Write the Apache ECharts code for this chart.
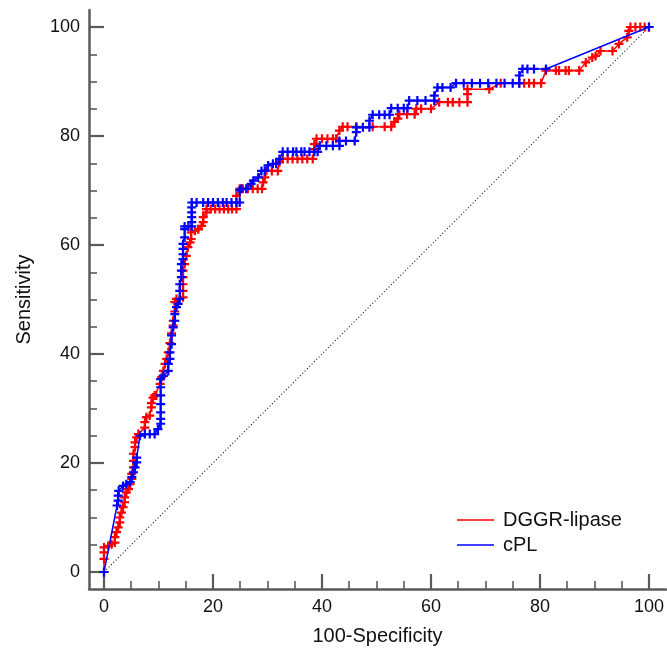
<!DOCTYPE html>
<html>
<head>
<meta charset="utf-8">
<script src="https://cdn.jsdelivr.net/npm/echarts@6/dist/echarts.min.js"></script>
<style>
html,body{margin:0;padding:0;background:#fff;}
#chart{width:667px;height:651px;}
</style>
</head>
<body>
<div id="chart"></div>
<script>
// ---- data ----
const seriesNames = ['DGGR-lipase', 'cPL'];
const majorTicks = [0, 20, 40, 60, 80, 100];
const minorTicks = [5, 10, 15, 25, 30, 35, 45, 50, 55, 65, 70, 75, 85, 90, 95];

// DGGR-lipase ROC points: [100-Specificity, Sensitivity]
const dggrPoints = [
  [0,0],[0,2.4],[0,3.6],[0,4.5],[0.8,4.8],[1.4,5.1],[2.0,5.4],[2.0,6.4],[2.3,7.3],[2.6,8.2],
  [2.9,9.1],[2.9,10.0],[3.2,10.9],[3.5,11.9],[3.8,12.8],[3.8,13.7],[4.1,14.6],[4.5,15.2],[4.8,16.1],
  [5.1,17.1],[5.1,18.0],[5.4,19.2],[5.4,20.4],[5.4,21.7],[5.7,22.9],[5.7,23.8],[6.0,24.7],[6.3,25.3],
  [7.5,26.5],[7.5,27.5],[7.8,28.4],[8.4,28.7],[8.7,30.2],[8.7,31.0],[9.0,32.0],[9.3,32.4],[9.6,32.4],
  [10.3,34.5],[10.6,35.8],[10.9,36.9],[11.2,38.2],[11.5,39.1],[11.8,40.3],[12.1,42.0],[12.4,43.8],
  [12.7,45.2],[12.7,46.1],[13.0,47.8],[13.0,49.5],[13.3,50.1],[14.5,50.4],[14.5,51.6],[14.5,52.8],
  [14.5,54.1],[14.5,55.3],[14.8,56.5],[15.1,58.0],[15.4,59.6],[15.8,60.5],[16.0,61.1],[16.0,62.3],
  [16.7,62.6],[17.3,62.9],[17.9,63.5],[18.2,64.2],[18.2,65.1],[18.8,66.0],[18.8,66.6],[19.6,66.6],
  [20.4,66.6],[21.2,66.6],[22.0,66.6],[22.8,66.6],[23.5,66.6],[24.3,66.6],[24.3,69.0],[24.9,70.3],
  [25.5,70.3],[26.4,70.3],[27.3,70.3],[28.2,70.3],[29.0,70.3],[29.2,71.5],[29.5,72.4],[29.8,73.6],
  [30.8,73.6],[31.9,73.6],[32.2,75.2],[32.8,75.8],[33.7,75.8],[34.6,75.8],[35.5,75.8],[36.4,75.8],
  [37.3,75.8],[38.3,75.8],[38.6,77.6],[38.6,78.5],[39.0,79.5],[40.0,79.5],[41.0,79.5],[42.0,79.5],
  [42.6,79.5],[43.2,81.0],[43.8,81.7],[44.7,81.7],[46.3,81.7],[49.3,81.7],[51.5,81.7],[52.7,81.7],
  [53.3,82.6],[53.9,83.2],[54.2,84.0],[55.6,84.0],[57.0,84.0],[57.3,85.0],[58.2,85.0],[60.0,85.0],
  [61.5,86.2],[63.1,86.2],[64.0,86.2],[65.2,86.2],[66.7,86.2],[66.7,87.7],[66.7,88.6],[70.7,88.6],
  [72.8,89.7],[76.2,89.7],[77.1,89.7],[78.0,89.7],[78.9,89.7],[80.2,89.7],[81.1,92.0],[82.9,92.0],
  [83.5,92.0],[84.7,92.0],[85.3,92.0],[87.2,92.0],[88.4,93.5],[89.6,94.4],[90.2,94.7],[91.1,95.6],
  [93.3,95.6],[94.5,96.9],[96.0,98.1],[96.3,99.3],[96.6,100],[97.5,100],[98.4,100],[99.2,100],[100,100]
];

// cPL ROC points: [100-Specificity, Sensitivity]
const cplPoints = [
  [0,0],[2.4,12.2],[2.6,13.1],[2.6,14.0],[2.7,14.9],[3.5,15.8],[4.1,16.1],[4.8,16.5],[5.1,17.4],
  [5.4,18.3],[5.7,19.2],[6.0,20.1],[6.0,21.0],[6.6,25.0],[7.5,25.3],[8.4,25.3],[9.3,25.3],[9.9,26.2],
  [10.4,27.2],[10.4,28.1],[10.4,29.3],[10.4,30.8],[10.4,32.4],[10.4,33.9],[10.4,35.4],[10.9,36.0],
  [11.8,36.9],[11.8,38.2],[12.1,39.1],[12.1,40.3],[12.4,41.8],[12.4,43.4],[12.7,44.9],[13.0,46.1],
  [13.0,47.3],[13.3,48.6],[13.6,49.2],[13.9,50.1],[13.9,51.6],[13.9,52.8],[14.2,54.1],[14.2,55.3],
  [14.2,56.5],[14.5,57.4],[14.5,58.3],[14.5,59.3],[14.5,60.2],[14.8,61.4],[14.8,62.9],[14.8,63.4],
  [15.5,63.4],[16.1,63.4],[16.1,64.2],[16.1,65.1],[16.1,66.0],[16.1,66.9],[16.1,67.8],[17.0,67.8],
  [18.2,67.8],[19.1,67.8],[20.0,67.8],[20.9,67.8],[21.8,67.8],[22.5,67.8],[23.4,67.8],[24.3,67.8],
  [24.9,67.8],[24.9,70.0],[25.2,70.3],[26.1,70.3],[27.0,71.2],[27.4,71.8],[28.3,72.4],[28.9,73.6],
  [29.5,73.6],[30.1,74.6],[31.0,74.9],[31.6,74.9],[32.2,75.8],[32.8,77.1],[33.7,77.1],[34.7,77.1],
  [35.3,77.1],[36.2,77.1],[36.8,77.1],[37.7,77.1],[38.6,77.1],[39.2,77.1],[39.6,78.2],[40.8,78.2],
  [42.0,78.2],[43.2,78.2],[43.2,79.1],[44.4,79.1],[46.0,79.1],[46.3,80.7],[46.3,81.6],[47.5,81.6],
  [48.7,81.6],[48.7,82.8],[49.3,83.9],[50.5,83.9],[51.5,83.9],[52.4,83.9],[52.7,85.1],[53.9,85.1],
  [55.0,85.1],[55.7,85.1],[56.0,86.5],[57.5,86.5],[59.0,86.5],[60.6,86.5],[60.6,87.4],[61.2,88.9],
  [62.1,88.9],[63.6,88.9],[64.6,89.7],[66.0,89.7],[67.5,89.7],[69.0,89.7],[70.5,89.7],[72.0,89.7],
  [73.5,89.7],[75.0,89.7],[76.2,89.7],[76.2,91.1],[76.8,92.3],[77.7,92.3],[78.9,92.3],[81.1,92.3],
  [100,100]
];

const diagonalPoints = [[0,0],[100,100]];

// ---- chart ----
const plusSymbol = 'path://M3.4,0H5.6V3.4H9V5.6H5.6V9H3.4V5.6H0V3.4H3.4Z';
const axisColor = '#5a5a5a';
const font = 'Arial, "Liberation Sans", Helvetica, sans-serif';

const chart = echarts.init(document.getElementById('chart'), null, {renderer: 'canvas'});

function mainAxis(dim) {
  const isX = dim === 'x';
  return {
    type: 'value',
    position: isX ? 'bottom' : 'left',
    min: isX ? -2.75 : -3.12,
    max: isX ? 103.1 : 103.12,
    name: isX ? '100-Specificity' : 'Sensitivity',
    nameLocation: 'middle',
    nameGap: isX ? 37 : 55,
    nameTextStyle: {fontSize: 20, color: '#111', fontFamily: font},
    axisLine: {show: true, onZero: false, lineStyle: {color: axisColor, width: 2.5}},
    axisTick: {show: true, inside: true, length: 15, customValues: majorTicks,
               lineStyle: {color: axisColor, width: 2.2}},
    axisLabel: {show: true, customValues: majorTicks, margin: 9,
                fontSize: 18, color: '#111', fontFamily: font},
    splitLine: {show: false}
  };
}
function minorAxis(dim) {
  const isX = dim === 'x';
  return {
    type: 'value',
    position: isX ? 'bottom' : 'left',
    min: isX ? -2.75 : -3.12,
    max: isX ? 103.1 : 103.12,
    axisLine: {show: false, onZero: false},
    axisTick: {show: true, inside: true, length: 8, customValues: minorTicks,
               lineStyle: {color: axisColor, width: 1.6}},
    axisLabel: {show: false},
    splitLine: {show: false}
  };
}

const option = {
  animation: false,
  backgroundColor: '#ffffff',
  grid: {left: 89, top: 10, right: 0, bottom: 61, containLabel: false},
  xAxis: [mainAxis('x'), minorAxis('x')],
  yAxis: [mainAxis('y'), minorAxis('y')],
  legend: {
    data: seriesNames,
    orient: 'vertical',
    left: 457,
    top: 510,
    padding: 0,
    itemGap: 5,
    itemWidth: 37,
    itemHeight: 1.5,
    icon: 'rect',
    selectedMode: false,
    textStyle: {fontSize: 20, color: '#111', fontFamily: font, padding: [0, 0, 0, 4], lineHeight: 20}
  },
  series: [
    {
      name: 'diagonal',
      type: 'line',
      data: diagonalPoints,
      showSymbol: false,
      silent: true,
      lineStyle: {color: '#222', width: 1.1, type: [1.1, 2.2]},
      z: 1
    },
    {
      name: seriesNames[0],
      type: 'line',
      data: dggrPoints,
      color: '#ff0000',
      symbol: plusSymbol,
      symbolSize: 9,
      showSymbol: true,
      clip: false,
      lineStyle: {color: '#ff0000', width: 1.5},
      itemStyle: {color: '#ff0000'},
      z: 2
    },
    {
      name: seriesNames[1],
      type: 'line',
      data: cplPoints,
      color: '#0000ff',
      symbol: plusSymbol,
      symbolSize: 9,
      showSymbol: true,
      clip: false,
      lineStyle: {color: '#0000ff', width: 1.5},
      itemStyle: {color: '#0000ff'},
      z: 3
    }
  ]
};
chart.setOption(option);
</script>
</body>
</html>
